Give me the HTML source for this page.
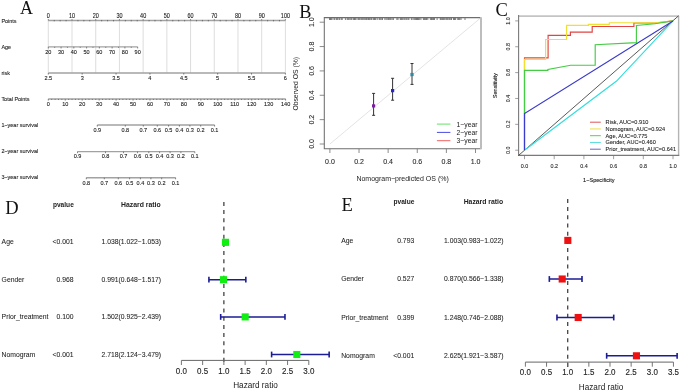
<!DOCTYPE html>
<html><head><meta charset="utf-8"><style>
html,body{margin:0;padding:0;background:#fff;}
svg{display:block;filter:blur(0.42px);}
</style></head><body>
<svg width="685" height="392" viewBox="0 0 685 392">
<rect width="685" height="392" fill="#fff"/>
<text transform="translate(20.00,14.10)" font-family="Liberation Serif" font-size="18.0" text-anchor="start" fill="#111">A</text>
<line x1="48.30" y1="20.45" x2="48.30" y2="73.00" stroke="#d2d2d2" stroke-width="0.75" />
<line x1="72.01" y1="20.45" x2="72.01" y2="73.00" stroke="#d2d2d2" stroke-width="0.75" />
<line x1="95.72" y1="20.45" x2="95.72" y2="73.00" stroke="#d2d2d2" stroke-width="0.75" />
<line x1="119.43" y1="20.45" x2="119.43" y2="73.00" stroke="#d2d2d2" stroke-width="0.75" />
<line x1="143.14" y1="20.45" x2="143.14" y2="73.00" stroke="#d2d2d2" stroke-width="0.75" />
<line x1="166.85" y1="20.45" x2="166.85" y2="73.00" stroke="#d2d2d2" stroke-width="0.75" />
<line x1="190.56" y1="20.45" x2="190.56" y2="73.00" stroke="#d2d2d2" stroke-width="0.75" />
<line x1="214.27" y1="20.45" x2="214.27" y2="73.00" stroke="#d2d2d2" stroke-width="0.75" />
<line x1="237.98" y1="20.45" x2="237.98" y2="73.00" stroke="#d2d2d2" stroke-width="0.75" />
<line x1="261.69" y1="20.45" x2="261.69" y2="73.00" stroke="#d2d2d2" stroke-width="0.75" />
<line x1="285.40" y1="20.45" x2="285.40" y2="73.00" stroke="#d2d2d2" stroke-width="0.75" />
<line x1="48.30" y1="20.45" x2="285.40" y2="20.45" stroke="#a2a2a2" stroke-width="1.45" />
<line x1="48.30" y1="20.45" x2="48.30" y2="19.05" stroke="#555" stroke-width="0.7" />
<line x1="54.23" y1="19.95" x2="54.23" y2="21.35" stroke="#555" stroke-width="0.7" />
<line x1="60.15" y1="19.95" x2="60.15" y2="21.35" stroke="#555" stroke-width="0.7" />
<line x1="66.08" y1="19.95" x2="66.08" y2="21.35" stroke="#555" stroke-width="0.7" />
<line x1="72.01" y1="20.45" x2="72.01" y2="19.05" stroke="#555" stroke-width="0.7" />
<line x1="77.94" y1="19.95" x2="77.94" y2="21.35" stroke="#555" stroke-width="0.7" />
<line x1="83.86" y1="19.95" x2="83.86" y2="21.35" stroke="#555" stroke-width="0.7" />
<line x1="89.79" y1="19.95" x2="89.79" y2="21.35" stroke="#555" stroke-width="0.7" />
<line x1="95.72" y1="20.45" x2="95.72" y2="19.05" stroke="#555" stroke-width="0.7" />
<line x1="101.65" y1="19.95" x2="101.65" y2="21.35" stroke="#555" stroke-width="0.7" />
<line x1="107.57" y1="19.95" x2="107.57" y2="21.35" stroke="#555" stroke-width="0.7" />
<line x1="113.50" y1="19.95" x2="113.50" y2="21.35" stroke="#555" stroke-width="0.7" />
<line x1="119.43" y1="20.45" x2="119.43" y2="19.05" stroke="#555" stroke-width="0.7" />
<line x1="125.36" y1="19.95" x2="125.36" y2="21.35" stroke="#555" stroke-width="0.7" />
<line x1="131.28" y1="19.95" x2="131.28" y2="21.35" stroke="#555" stroke-width="0.7" />
<line x1="137.21" y1="19.95" x2="137.21" y2="21.35" stroke="#555" stroke-width="0.7" />
<line x1="143.14" y1="20.45" x2="143.14" y2="19.05" stroke="#555" stroke-width="0.7" />
<line x1="149.07" y1="19.95" x2="149.07" y2="21.35" stroke="#555" stroke-width="0.7" />
<line x1="154.99" y1="19.95" x2="154.99" y2="21.35" stroke="#555" stroke-width="0.7" />
<line x1="160.92" y1="19.95" x2="160.92" y2="21.35" stroke="#555" stroke-width="0.7" />
<line x1="166.85" y1="20.45" x2="166.85" y2="19.05" stroke="#555" stroke-width="0.7" />
<line x1="172.78" y1="19.95" x2="172.78" y2="21.35" stroke="#555" stroke-width="0.7" />
<line x1="178.70" y1="19.95" x2="178.70" y2="21.35" stroke="#555" stroke-width="0.7" />
<line x1="184.63" y1="19.95" x2="184.63" y2="21.35" stroke="#555" stroke-width="0.7" />
<line x1="190.56" y1="20.45" x2="190.56" y2="19.05" stroke="#555" stroke-width="0.7" />
<line x1="196.49" y1="19.95" x2="196.49" y2="21.35" stroke="#555" stroke-width="0.7" />
<line x1="202.41" y1="19.95" x2="202.41" y2="21.35" stroke="#555" stroke-width="0.7" />
<line x1="208.34" y1="19.95" x2="208.34" y2="21.35" stroke="#555" stroke-width="0.7" />
<line x1="214.27" y1="20.45" x2="214.27" y2="19.05" stroke="#555" stroke-width="0.7" />
<line x1="220.20" y1="19.95" x2="220.20" y2="21.35" stroke="#555" stroke-width="0.7" />
<line x1="226.12" y1="19.95" x2="226.12" y2="21.35" stroke="#555" stroke-width="0.7" />
<line x1="232.05" y1="19.95" x2="232.05" y2="21.35" stroke="#555" stroke-width="0.7" />
<line x1="237.98" y1="20.45" x2="237.98" y2="19.05" stroke="#555" stroke-width="0.7" />
<line x1="243.91" y1="19.95" x2="243.91" y2="21.35" stroke="#555" stroke-width="0.7" />
<line x1="249.83" y1="19.95" x2="249.83" y2="21.35" stroke="#555" stroke-width="0.7" />
<line x1="255.76" y1="19.95" x2="255.76" y2="21.35" stroke="#555" stroke-width="0.7" />
<line x1="261.69" y1="20.45" x2="261.69" y2="19.05" stroke="#555" stroke-width="0.7" />
<line x1="267.62" y1="19.95" x2="267.62" y2="21.35" stroke="#555" stroke-width="0.7" />
<line x1="273.54" y1="19.95" x2="273.54" y2="21.35" stroke="#555" stroke-width="0.7" />
<line x1="279.47" y1="19.95" x2="279.47" y2="21.35" stroke="#555" stroke-width="0.7" />
<line x1="285.40" y1="20.45" x2="285.40" y2="19.05" stroke="#555" stroke-width="0.7" />
<text transform="translate(48.30,17.60) scale(0.84,1)" font-family="Liberation Sans" font-size="6.5" text-anchor="middle" fill="#1a1a1a" stroke="#1a1a1a" stroke-width="0.1">0</text>
<text transform="translate(72.01,17.60) scale(0.84,1)" font-family="Liberation Sans" font-size="6.5" text-anchor="middle" fill="#1a1a1a" stroke="#1a1a1a" stroke-width="0.1">10</text>
<text transform="translate(95.72,17.60) scale(0.84,1)" font-family="Liberation Sans" font-size="6.5" text-anchor="middle" fill="#1a1a1a" stroke="#1a1a1a" stroke-width="0.1">20</text>
<text transform="translate(119.43,17.60) scale(0.84,1)" font-family="Liberation Sans" font-size="6.5" text-anchor="middle" fill="#1a1a1a" stroke="#1a1a1a" stroke-width="0.1">30</text>
<text transform="translate(143.14,17.60) scale(0.84,1)" font-family="Liberation Sans" font-size="6.5" text-anchor="middle" fill="#1a1a1a" stroke="#1a1a1a" stroke-width="0.1">40</text>
<text transform="translate(166.85,17.60) scale(0.84,1)" font-family="Liberation Sans" font-size="6.5" text-anchor="middle" fill="#1a1a1a" stroke="#1a1a1a" stroke-width="0.1">50</text>
<text transform="translate(190.56,17.60) scale(0.84,1)" font-family="Liberation Sans" font-size="6.5" text-anchor="middle" fill="#1a1a1a" stroke="#1a1a1a" stroke-width="0.1">60</text>
<text transform="translate(214.27,17.60) scale(0.84,1)" font-family="Liberation Sans" font-size="6.5" text-anchor="middle" fill="#1a1a1a" stroke="#1a1a1a" stroke-width="0.1">70</text>
<text transform="translate(237.98,17.60) scale(0.84,1)" font-family="Liberation Sans" font-size="6.5" text-anchor="middle" fill="#1a1a1a" stroke="#1a1a1a" stroke-width="0.1">80</text>
<text transform="translate(261.69,17.60) scale(0.84,1)" font-family="Liberation Sans" font-size="6.5" text-anchor="middle" fill="#1a1a1a" stroke="#1a1a1a" stroke-width="0.1">90</text>
<text transform="translate(285.40,17.60) scale(0.84,1)" font-family="Liberation Sans" font-size="6.5" text-anchor="middle" fill="#1a1a1a" stroke="#1a1a1a" stroke-width="0.1">100</text>
<text transform="translate(1.40,22.75) scale(0.91,1)" font-family="Liberation Sans" font-size="6.0" text-anchor="start" fill="#1a1a1a" stroke="#1a1a1a" stroke-width="0.1">Points</text>
<line x1="48.30" y1="46.85" x2="137.66" y2="46.85" stroke="#a2a2a2" stroke-width="1.45" />
<line x1="48.30" y1="46.85" x2="48.30" y2="48.45" stroke="#555" stroke-width="0.7" />
<line x1="54.68" y1="46.85" x2="54.68" y2="47.85" stroke="#555" stroke-width="0.7" />
<line x1="61.07" y1="46.85" x2="61.07" y2="48.45" stroke="#555" stroke-width="0.7" />
<line x1="67.45" y1="46.85" x2="67.45" y2="47.85" stroke="#555" stroke-width="0.7" />
<line x1="73.83" y1="46.85" x2="73.83" y2="48.45" stroke="#555" stroke-width="0.7" />
<line x1="80.22" y1="46.85" x2="80.22" y2="47.85" stroke="#555" stroke-width="0.7" />
<line x1="86.60" y1="46.85" x2="86.60" y2="48.45" stroke="#555" stroke-width="0.7" />
<line x1="92.98" y1="46.85" x2="92.98" y2="47.85" stroke="#555" stroke-width="0.7" />
<line x1="99.36" y1="46.85" x2="99.36" y2="48.45" stroke="#555" stroke-width="0.7" />
<line x1="105.75" y1="46.85" x2="105.75" y2="47.85" stroke="#555" stroke-width="0.7" />
<line x1="112.13" y1="46.85" x2="112.13" y2="48.45" stroke="#555" stroke-width="0.7" />
<line x1="118.51" y1="46.85" x2="118.51" y2="47.85" stroke="#555" stroke-width="0.7" />
<line x1="124.90" y1="46.85" x2="124.90" y2="48.45" stroke="#555" stroke-width="0.7" />
<line x1="131.28" y1="46.85" x2="131.28" y2="47.85" stroke="#555" stroke-width="0.7" />
<line x1="137.66" y1="46.85" x2="137.66" y2="48.45" stroke="#555" stroke-width="0.7" />
<text transform="translate(48.30,53.50) scale(0.97,1)" font-family="Liberation Sans" font-size="5.7" text-anchor="middle" fill="#1a1a1a" stroke="#1a1a1a" stroke-width="0.1">20</text>
<text transform="translate(61.07,53.50) scale(0.97,1)" font-family="Liberation Sans" font-size="5.7" text-anchor="middle" fill="#1a1a1a" stroke="#1a1a1a" stroke-width="0.1">30</text>
<text transform="translate(73.83,53.50) scale(0.97,1)" font-family="Liberation Sans" font-size="5.7" text-anchor="middle" fill="#1a1a1a" stroke="#1a1a1a" stroke-width="0.1">40</text>
<text transform="translate(86.60,53.50) scale(0.97,1)" font-family="Liberation Sans" font-size="5.7" text-anchor="middle" fill="#1a1a1a" stroke="#1a1a1a" stroke-width="0.1">50</text>
<text transform="translate(99.36,53.50) scale(0.97,1)" font-family="Liberation Sans" font-size="5.7" text-anchor="middle" fill="#1a1a1a" stroke="#1a1a1a" stroke-width="0.1">60</text>
<text transform="translate(112.13,53.50) scale(0.97,1)" font-family="Liberation Sans" font-size="5.7" text-anchor="middle" fill="#1a1a1a" stroke="#1a1a1a" stroke-width="0.1">70</text>
<text transform="translate(124.90,53.50) scale(0.97,1)" font-family="Liberation Sans" font-size="5.7" text-anchor="middle" fill="#1a1a1a" stroke="#1a1a1a" stroke-width="0.1">80</text>
<text transform="translate(137.66,53.50) scale(0.97,1)" font-family="Liberation Sans" font-size="5.7" text-anchor="middle" fill="#1a1a1a" stroke="#1a1a1a" stroke-width="0.1">90</text>
<text transform="translate(1.40,49.05) scale(0.91,1)" font-family="Liberation Sans" font-size="6.0" text-anchor="start" fill="#1a1a1a" stroke="#1a1a1a" stroke-width="0.1">Age</text>
<line x1="48.30" y1="73.00" x2="285.39" y2="73.00" stroke="#a2a2a2" stroke-width="1.45" />
<line x1="48.30" y1="73.00" x2="48.30" y2="74.60" stroke="#555" stroke-width="0.7" />
<text transform="translate(48.30,79.80) scale(0.97,1)" font-family="Liberation Sans" font-size="5.7" text-anchor="middle" fill="#1a1a1a" stroke="#1a1a1a" stroke-width="0.1">2.5</text>
<line x1="82.17" y1="73.00" x2="82.17" y2="74.60" stroke="#555" stroke-width="0.7" />
<text transform="translate(82.17,79.80) scale(0.97,1)" font-family="Liberation Sans" font-size="5.7" text-anchor="middle" fill="#1a1a1a" stroke="#1a1a1a" stroke-width="0.1">3</text>
<line x1="116.04" y1="73.00" x2="116.04" y2="74.60" stroke="#555" stroke-width="0.7" />
<text transform="translate(116.04,79.80) scale(0.97,1)" font-family="Liberation Sans" font-size="5.7" text-anchor="middle" fill="#1a1a1a" stroke="#1a1a1a" stroke-width="0.1">3.5</text>
<line x1="149.91" y1="73.00" x2="149.91" y2="74.60" stroke="#555" stroke-width="0.7" />
<text transform="translate(149.91,79.80) scale(0.97,1)" font-family="Liberation Sans" font-size="5.7" text-anchor="middle" fill="#1a1a1a" stroke="#1a1a1a" stroke-width="0.1">4</text>
<line x1="183.78" y1="73.00" x2="183.78" y2="74.60" stroke="#555" stroke-width="0.7" />
<text transform="translate(183.78,79.80) scale(0.97,1)" font-family="Liberation Sans" font-size="5.7" text-anchor="middle" fill="#1a1a1a" stroke="#1a1a1a" stroke-width="0.1">4.5</text>
<line x1="217.65" y1="73.00" x2="217.65" y2="74.60" stroke="#555" stroke-width="0.7" />
<text transform="translate(217.65,79.80) scale(0.97,1)" font-family="Liberation Sans" font-size="5.7" text-anchor="middle" fill="#1a1a1a" stroke="#1a1a1a" stroke-width="0.1">5</text>
<line x1="251.52" y1="73.00" x2="251.52" y2="74.60" stroke="#555" stroke-width="0.7" />
<text transform="translate(251.52,79.80) scale(0.97,1)" font-family="Liberation Sans" font-size="5.7" text-anchor="middle" fill="#1a1a1a" stroke="#1a1a1a" stroke-width="0.1">5.5</text>
<line x1="285.39" y1="73.00" x2="285.39" y2="74.60" stroke="#555" stroke-width="0.7" />
<text transform="translate(285.39,79.80) scale(0.97,1)" font-family="Liberation Sans" font-size="5.7" text-anchor="middle" fill="#1a1a1a" stroke="#1a1a1a" stroke-width="0.1">6</text>
<text transform="translate(1.40,75.20) scale(0.91,1)" font-family="Liberation Sans" font-size="6.0" text-anchor="start" fill="#1a1a1a" stroke="#1a1a1a" stroke-width="0.1">risk</text>
<line x1="48.30" y1="98.95" x2="285.60" y2="98.95" stroke="#a2a2a2" stroke-width="1.45" />
<line x1="48.30" y1="98.95" x2="48.30" y2="100.55" stroke="#555" stroke-width="0.7" />
<line x1="51.69" y1="98.95" x2="51.69" y2="99.95" stroke="#555" stroke-width="0.7" />
<line x1="55.08" y1="98.95" x2="55.08" y2="99.95" stroke="#555" stroke-width="0.7" />
<line x1="58.47" y1="98.95" x2="58.47" y2="99.95" stroke="#555" stroke-width="0.7" />
<line x1="61.86" y1="98.95" x2="61.86" y2="99.95" stroke="#555" stroke-width="0.7" />
<line x1="65.25" y1="98.95" x2="65.25" y2="100.55" stroke="#555" stroke-width="0.7" />
<line x1="68.64" y1="98.95" x2="68.64" y2="99.95" stroke="#555" stroke-width="0.7" />
<line x1="72.03" y1="98.95" x2="72.03" y2="99.95" stroke="#555" stroke-width="0.7" />
<line x1="75.42" y1="98.95" x2="75.42" y2="99.95" stroke="#555" stroke-width="0.7" />
<line x1="78.81" y1="98.95" x2="78.81" y2="99.95" stroke="#555" stroke-width="0.7" />
<line x1="82.20" y1="98.95" x2="82.20" y2="100.55" stroke="#555" stroke-width="0.7" />
<line x1="85.59" y1="98.95" x2="85.59" y2="99.95" stroke="#555" stroke-width="0.7" />
<line x1="88.98" y1="98.95" x2="88.98" y2="99.95" stroke="#555" stroke-width="0.7" />
<line x1="92.37" y1="98.95" x2="92.37" y2="99.95" stroke="#555" stroke-width="0.7" />
<line x1="95.76" y1="98.95" x2="95.76" y2="99.95" stroke="#555" stroke-width="0.7" />
<line x1="99.15" y1="98.95" x2="99.15" y2="100.55" stroke="#555" stroke-width="0.7" />
<line x1="102.54" y1="98.95" x2="102.54" y2="99.95" stroke="#555" stroke-width="0.7" />
<line x1="105.93" y1="98.95" x2="105.93" y2="99.95" stroke="#555" stroke-width="0.7" />
<line x1="109.32" y1="98.95" x2="109.32" y2="99.95" stroke="#555" stroke-width="0.7" />
<line x1="112.71" y1="98.95" x2="112.71" y2="99.95" stroke="#555" stroke-width="0.7" />
<line x1="116.10" y1="98.95" x2="116.10" y2="100.55" stroke="#555" stroke-width="0.7" />
<line x1="119.49" y1="98.95" x2="119.49" y2="99.95" stroke="#555" stroke-width="0.7" />
<line x1="122.88" y1="98.95" x2="122.88" y2="99.95" stroke="#555" stroke-width="0.7" />
<line x1="126.27" y1="98.95" x2="126.27" y2="99.95" stroke="#555" stroke-width="0.7" />
<line x1="129.66" y1="98.95" x2="129.66" y2="99.95" stroke="#555" stroke-width="0.7" />
<line x1="133.05" y1="98.95" x2="133.05" y2="100.55" stroke="#555" stroke-width="0.7" />
<line x1="136.44" y1="98.95" x2="136.44" y2="99.95" stroke="#555" stroke-width="0.7" />
<line x1="139.83" y1="98.95" x2="139.83" y2="99.95" stroke="#555" stroke-width="0.7" />
<line x1="143.22" y1="98.95" x2="143.22" y2="99.95" stroke="#555" stroke-width="0.7" />
<line x1="146.61" y1="98.95" x2="146.61" y2="99.95" stroke="#555" stroke-width="0.7" />
<line x1="150.00" y1="98.95" x2="150.00" y2="100.55" stroke="#555" stroke-width="0.7" />
<line x1="153.39" y1="98.95" x2="153.39" y2="99.95" stroke="#555" stroke-width="0.7" />
<line x1="156.78" y1="98.95" x2="156.78" y2="99.95" stroke="#555" stroke-width="0.7" />
<line x1="160.17" y1="98.95" x2="160.17" y2="99.95" stroke="#555" stroke-width="0.7" />
<line x1="163.56" y1="98.95" x2="163.56" y2="99.95" stroke="#555" stroke-width="0.7" />
<line x1="166.95" y1="98.95" x2="166.95" y2="100.55" stroke="#555" stroke-width="0.7" />
<line x1="170.34" y1="98.95" x2="170.34" y2="99.95" stroke="#555" stroke-width="0.7" />
<line x1="173.73" y1="98.95" x2="173.73" y2="99.95" stroke="#555" stroke-width="0.7" />
<line x1="177.12" y1="98.95" x2="177.12" y2="99.95" stroke="#555" stroke-width="0.7" />
<line x1="180.51" y1="98.95" x2="180.51" y2="99.95" stroke="#555" stroke-width="0.7" />
<line x1="183.90" y1="98.95" x2="183.90" y2="100.55" stroke="#555" stroke-width="0.7" />
<line x1="187.29" y1="98.95" x2="187.29" y2="99.95" stroke="#555" stroke-width="0.7" />
<line x1="190.68" y1="98.95" x2="190.68" y2="99.95" stroke="#555" stroke-width="0.7" />
<line x1="194.07" y1="98.95" x2="194.07" y2="99.95" stroke="#555" stroke-width="0.7" />
<line x1="197.46" y1="98.95" x2="197.46" y2="99.95" stroke="#555" stroke-width="0.7" />
<line x1="200.85" y1="98.95" x2="200.85" y2="100.55" stroke="#555" stroke-width="0.7" />
<line x1="204.24" y1="98.95" x2="204.24" y2="99.95" stroke="#555" stroke-width="0.7" />
<line x1="207.63" y1="98.95" x2="207.63" y2="99.95" stroke="#555" stroke-width="0.7" />
<line x1="211.02" y1="98.95" x2="211.02" y2="99.95" stroke="#555" stroke-width="0.7" />
<line x1="214.41" y1="98.95" x2="214.41" y2="99.95" stroke="#555" stroke-width="0.7" />
<line x1="217.80" y1="98.95" x2="217.80" y2="100.55" stroke="#555" stroke-width="0.7" />
<line x1="221.19" y1="98.95" x2="221.19" y2="99.95" stroke="#555" stroke-width="0.7" />
<line x1="224.58" y1="98.95" x2="224.58" y2="99.95" stroke="#555" stroke-width="0.7" />
<line x1="227.97" y1="98.95" x2="227.97" y2="99.95" stroke="#555" stroke-width="0.7" />
<line x1="231.36" y1="98.95" x2="231.36" y2="99.95" stroke="#555" stroke-width="0.7" />
<line x1="234.75" y1="98.95" x2="234.75" y2="100.55" stroke="#555" stroke-width="0.7" />
<line x1="238.14" y1="98.95" x2="238.14" y2="99.95" stroke="#555" stroke-width="0.7" />
<line x1="241.53" y1="98.95" x2="241.53" y2="99.95" stroke="#555" stroke-width="0.7" />
<line x1="244.92" y1="98.95" x2="244.92" y2="99.95" stroke="#555" stroke-width="0.7" />
<line x1="248.31" y1="98.95" x2="248.31" y2="99.95" stroke="#555" stroke-width="0.7" />
<line x1="251.70" y1="98.95" x2="251.70" y2="100.55" stroke="#555" stroke-width="0.7" />
<line x1="255.09" y1="98.95" x2="255.09" y2="99.95" stroke="#555" stroke-width="0.7" />
<line x1="258.48" y1="98.95" x2="258.48" y2="99.95" stroke="#555" stroke-width="0.7" />
<line x1="261.87" y1="98.95" x2="261.87" y2="99.95" stroke="#555" stroke-width="0.7" />
<line x1="265.26" y1="98.95" x2="265.26" y2="99.95" stroke="#555" stroke-width="0.7" />
<line x1="268.65" y1="98.95" x2="268.65" y2="100.55" stroke="#555" stroke-width="0.7" />
<line x1="272.04" y1="98.95" x2="272.04" y2="99.95" stroke="#555" stroke-width="0.7" />
<line x1="275.43" y1="98.95" x2="275.43" y2="99.95" stroke="#555" stroke-width="0.7" />
<line x1="278.82" y1="98.95" x2="278.82" y2="99.95" stroke="#555" stroke-width="0.7" />
<line x1="282.21" y1="98.95" x2="282.21" y2="99.95" stroke="#555" stroke-width="0.7" />
<line x1="285.60" y1="98.95" x2="285.60" y2="100.55" stroke="#555" stroke-width="0.7" />
<text transform="translate(48.30,105.80) scale(0.97,1)" font-family="Liberation Sans" font-size="5.7" text-anchor="middle" fill="#1a1a1a" stroke="#1a1a1a" stroke-width="0.1">0</text>
<text transform="translate(65.25,105.80) scale(0.97,1)" font-family="Liberation Sans" font-size="5.7" text-anchor="middle" fill="#1a1a1a" stroke="#1a1a1a" stroke-width="0.1">10</text>
<text transform="translate(82.20,105.80) scale(0.97,1)" font-family="Liberation Sans" font-size="5.7" text-anchor="middle" fill="#1a1a1a" stroke="#1a1a1a" stroke-width="0.1">20</text>
<text transform="translate(99.15,105.80) scale(0.97,1)" font-family="Liberation Sans" font-size="5.7" text-anchor="middle" fill="#1a1a1a" stroke="#1a1a1a" stroke-width="0.1">30</text>
<text transform="translate(116.10,105.80) scale(0.97,1)" font-family="Liberation Sans" font-size="5.7" text-anchor="middle" fill="#1a1a1a" stroke="#1a1a1a" stroke-width="0.1">40</text>
<text transform="translate(133.05,105.80) scale(0.97,1)" font-family="Liberation Sans" font-size="5.7" text-anchor="middle" fill="#1a1a1a" stroke="#1a1a1a" stroke-width="0.1">50</text>
<text transform="translate(150.00,105.80) scale(0.97,1)" font-family="Liberation Sans" font-size="5.7" text-anchor="middle" fill="#1a1a1a" stroke="#1a1a1a" stroke-width="0.1">60</text>
<text transform="translate(166.95,105.80) scale(0.97,1)" font-family="Liberation Sans" font-size="5.7" text-anchor="middle" fill="#1a1a1a" stroke="#1a1a1a" stroke-width="0.1">70</text>
<text transform="translate(183.90,105.80) scale(0.97,1)" font-family="Liberation Sans" font-size="5.7" text-anchor="middle" fill="#1a1a1a" stroke="#1a1a1a" stroke-width="0.1">80</text>
<text transform="translate(200.85,105.80) scale(0.97,1)" font-family="Liberation Sans" font-size="5.7" text-anchor="middle" fill="#1a1a1a" stroke="#1a1a1a" stroke-width="0.1">90</text>
<text transform="translate(217.80,105.80) scale(0.97,1)" font-family="Liberation Sans" font-size="5.7" text-anchor="middle" fill="#1a1a1a" stroke="#1a1a1a" stroke-width="0.1">100</text>
<text transform="translate(234.75,105.80) scale(0.97,1)" font-family="Liberation Sans" font-size="5.7" text-anchor="middle" fill="#1a1a1a" stroke="#1a1a1a" stroke-width="0.1">110</text>
<text transform="translate(251.70,105.80) scale(0.97,1)" font-family="Liberation Sans" font-size="5.7" text-anchor="middle" fill="#1a1a1a" stroke="#1a1a1a" stroke-width="0.1">120</text>
<text transform="translate(268.65,105.80) scale(0.97,1)" font-family="Liberation Sans" font-size="5.7" text-anchor="middle" fill="#1a1a1a" stroke="#1a1a1a" stroke-width="0.1">130</text>
<text transform="translate(285.60,105.80) scale(0.97,1)" font-family="Liberation Sans" font-size="5.7" text-anchor="middle" fill="#1a1a1a" stroke="#1a1a1a" stroke-width="0.1">140</text>
<text transform="translate(1.40,101.25) scale(0.91,1)" font-family="Liberation Sans" font-size="6.0" text-anchor="start" fill="#1a1a1a" stroke="#1a1a1a" stroke-width="0.1">Total Points</text>
<line x1="97.30" y1="125.00" x2="214.60" y2="125.00" stroke="#a2a2a2" stroke-width="1.45" />
<line x1="97.30" y1="125.00" x2="97.30" y2="126.60" stroke="#555" stroke-width="0.7" />
<text transform="translate(97.30,132.00) scale(0.97,1)" font-family="Liberation Sans" font-size="5.7" text-anchor="middle" fill="#1a1a1a" stroke="#1a1a1a" stroke-width="0.1">0.9</text>
<line x1="125.30" y1="125.00" x2="125.30" y2="126.60" stroke="#555" stroke-width="0.7" />
<text transform="translate(125.30,132.00) scale(0.97,1)" font-family="Liberation Sans" font-size="5.7" text-anchor="middle" fill="#1a1a1a" stroke="#1a1a1a" stroke-width="0.1">0.8</text>
<line x1="143.30" y1="125.00" x2="143.30" y2="126.60" stroke="#555" stroke-width="0.7" />
<text transform="translate(143.30,132.00) scale(0.97,1)" font-family="Liberation Sans" font-size="5.7" text-anchor="middle" fill="#1a1a1a" stroke="#1a1a1a" stroke-width="0.1">0.7</text>
<line x1="157.30" y1="125.00" x2="157.30" y2="126.60" stroke="#555" stroke-width="0.7" />
<text transform="translate(157.30,132.00) scale(0.97,1)" font-family="Liberation Sans" font-size="5.7" text-anchor="middle" fill="#1a1a1a" stroke="#1a1a1a" stroke-width="0.1">0.6</text>
<line x1="168.60" y1="125.00" x2="168.60" y2="126.60" stroke="#555" stroke-width="0.7" />
<text transform="translate(168.60,132.00) scale(0.97,1)" font-family="Liberation Sans" font-size="5.7" text-anchor="middle" fill="#1a1a1a" stroke="#1a1a1a" stroke-width="0.1">0.5</text>
<line x1="179.40" y1="125.00" x2="179.40" y2="126.60" stroke="#555" stroke-width="0.7" />
<text transform="translate(179.40,132.00) scale(0.97,1)" font-family="Liberation Sans" font-size="5.7" text-anchor="middle" fill="#1a1a1a" stroke="#1a1a1a" stroke-width="0.1">0.4</text>
<line x1="189.90" y1="125.00" x2="189.90" y2="126.60" stroke="#555" stroke-width="0.7" />
<text transform="translate(189.90,132.00) scale(0.97,1)" font-family="Liberation Sans" font-size="5.7" text-anchor="middle" fill="#1a1a1a" stroke="#1a1a1a" stroke-width="0.1">0.3</text>
<line x1="200.70" y1="125.00" x2="200.70" y2="126.60" stroke="#555" stroke-width="0.7" />
<text transform="translate(200.70,132.00) scale(0.97,1)" font-family="Liberation Sans" font-size="5.7" text-anchor="middle" fill="#1a1a1a" stroke="#1a1a1a" stroke-width="0.1">0.2</text>
<line x1="214.60" y1="125.00" x2="214.60" y2="126.60" stroke="#555" stroke-width="0.7" />
<text transform="translate(214.60,132.00) scale(0.97,1)" font-family="Liberation Sans" font-size="5.7" text-anchor="middle" fill="#1a1a1a" stroke="#1a1a1a" stroke-width="0.1">0.1</text>
<text transform="translate(1.40,126.50) scale(0.91,1)" font-family="Liberation Sans" font-size="6.0" text-anchor="start" fill="#1a1a1a" stroke="#1a1a1a" stroke-width="0.1">1−year survival</text>
<line x1="77.50" y1="151.60" x2="194.80" y2="151.60" stroke="#a2a2a2" stroke-width="1.45" />
<line x1="77.50" y1="151.60" x2="77.50" y2="153.20" stroke="#555" stroke-width="0.7" />
<text transform="translate(77.50,158.40) scale(0.97,1)" font-family="Liberation Sans" font-size="5.7" text-anchor="middle" fill="#1a1a1a" stroke="#1a1a1a" stroke-width="0.1">0.9</text>
<line x1="105.50" y1="151.60" x2="105.50" y2="153.20" stroke="#555" stroke-width="0.7" />
<text transform="translate(105.50,158.40) scale(0.97,1)" font-family="Liberation Sans" font-size="5.7" text-anchor="middle" fill="#1a1a1a" stroke="#1a1a1a" stroke-width="0.1">0.8</text>
<line x1="123.50" y1="151.60" x2="123.50" y2="153.20" stroke="#555" stroke-width="0.7" />
<text transform="translate(123.50,158.40) scale(0.97,1)" font-family="Liberation Sans" font-size="5.7" text-anchor="middle" fill="#1a1a1a" stroke="#1a1a1a" stroke-width="0.1">0.7</text>
<line x1="137.50" y1="151.60" x2="137.50" y2="153.20" stroke="#555" stroke-width="0.7" />
<text transform="translate(137.50,158.40) scale(0.97,1)" font-family="Liberation Sans" font-size="5.7" text-anchor="middle" fill="#1a1a1a" stroke="#1a1a1a" stroke-width="0.1">0.6</text>
<line x1="148.80" y1="151.60" x2="148.80" y2="153.20" stroke="#555" stroke-width="0.7" />
<text transform="translate(148.80,158.40) scale(0.97,1)" font-family="Liberation Sans" font-size="5.7" text-anchor="middle" fill="#1a1a1a" stroke="#1a1a1a" stroke-width="0.1">0.5</text>
<line x1="159.60" y1="151.60" x2="159.60" y2="153.20" stroke="#555" stroke-width="0.7" />
<text transform="translate(159.60,158.40) scale(0.97,1)" font-family="Liberation Sans" font-size="5.7" text-anchor="middle" fill="#1a1a1a" stroke="#1a1a1a" stroke-width="0.1">0.4</text>
<line x1="170.10" y1="151.60" x2="170.10" y2="153.20" stroke="#555" stroke-width="0.7" />
<text transform="translate(170.10,158.40) scale(0.97,1)" font-family="Liberation Sans" font-size="5.7" text-anchor="middle" fill="#1a1a1a" stroke="#1a1a1a" stroke-width="0.1">0.3</text>
<line x1="180.90" y1="151.60" x2="180.90" y2="153.20" stroke="#555" stroke-width="0.7" />
<text transform="translate(180.90,158.40) scale(0.97,1)" font-family="Liberation Sans" font-size="5.7" text-anchor="middle" fill="#1a1a1a" stroke="#1a1a1a" stroke-width="0.1">0.2</text>
<line x1="194.80" y1="151.60" x2="194.80" y2="153.20" stroke="#555" stroke-width="0.7" />
<text transform="translate(194.80,158.40) scale(0.97,1)" font-family="Liberation Sans" font-size="5.7" text-anchor="middle" fill="#1a1a1a" stroke="#1a1a1a" stroke-width="0.1">0.1</text>
<text transform="translate(1.40,152.60) scale(0.91,1)" font-family="Liberation Sans" font-size="6.0" text-anchor="start" fill="#1a1a1a" stroke="#1a1a1a" stroke-width="0.1">2−year survival</text>
<line x1="86.30" y1="177.70" x2="175.60" y2="177.70" stroke="#a2a2a2" stroke-width="1.45" />
<line x1="86.30" y1="177.70" x2="86.30" y2="179.30" stroke="#555" stroke-width="0.7" />
<text transform="translate(86.30,184.50) scale(0.97,1)" font-family="Liberation Sans" font-size="5.7" text-anchor="middle" fill="#1a1a1a" stroke="#1a1a1a" stroke-width="0.1">0.8</text>
<line x1="104.30" y1="177.70" x2="104.30" y2="179.30" stroke="#555" stroke-width="0.7" />
<text transform="translate(104.30,184.50) scale(0.97,1)" font-family="Liberation Sans" font-size="5.7" text-anchor="middle" fill="#1a1a1a" stroke="#1a1a1a" stroke-width="0.1">0.7</text>
<line x1="118.30" y1="177.70" x2="118.30" y2="179.30" stroke="#555" stroke-width="0.7" />
<text transform="translate(118.30,184.50) scale(0.97,1)" font-family="Liberation Sans" font-size="5.7" text-anchor="middle" fill="#1a1a1a" stroke="#1a1a1a" stroke-width="0.1">0.6</text>
<line x1="129.60" y1="177.70" x2="129.60" y2="179.30" stroke="#555" stroke-width="0.7" />
<text transform="translate(129.60,184.50) scale(0.97,1)" font-family="Liberation Sans" font-size="5.7" text-anchor="middle" fill="#1a1a1a" stroke="#1a1a1a" stroke-width="0.1">0.5</text>
<line x1="140.40" y1="177.70" x2="140.40" y2="179.30" stroke="#555" stroke-width="0.7" />
<text transform="translate(140.40,184.50) scale(0.97,1)" font-family="Liberation Sans" font-size="5.7" text-anchor="middle" fill="#1a1a1a" stroke="#1a1a1a" stroke-width="0.1">0.4</text>
<line x1="150.90" y1="177.70" x2="150.90" y2="179.30" stroke="#555" stroke-width="0.7" />
<text transform="translate(150.90,184.50) scale(0.97,1)" font-family="Liberation Sans" font-size="5.7" text-anchor="middle" fill="#1a1a1a" stroke="#1a1a1a" stroke-width="0.1">0.3</text>
<line x1="161.70" y1="177.70" x2="161.70" y2="179.30" stroke="#555" stroke-width="0.7" />
<text transform="translate(161.70,184.50) scale(0.97,1)" font-family="Liberation Sans" font-size="5.7" text-anchor="middle" fill="#1a1a1a" stroke="#1a1a1a" stroke-width="0.1">0.2</text>
<line x1="175.60" y1="177.70" x2="175.60" y2="179.30" stroke="#555" stroke-width="0.7" />
<text transform="translate(175.60,184.50) scale(0.97,1)" font-family="Liberation Sans" font-size="5.7" text-anchor="middle" fill="#1a1a1a" stroke="#1a1a1a" stroke-width="0.1">0.1</text>
<text transform="translate(1.40,179.00) scale(0.91,1)" font-family="Liberation Sans" font-size="6.0" text-anchor="start" fill="#1a1a1a" stroke="#1a1a1a" stroke-width="0.1">3−year survival</text>
<text transform="translate(299.20,18.00)" font-family="Liberation Serif" font-size="18.3" text-anchor="start" fill="#111">B</text>
<line x1="329.90" y1="144.00" x2="479.87" y2="18.55" stroke="#d0d0d0" stroke-width="0.6" />
<polyline points="480.50,17.60 324.30,17.60 324.30,148.80 480.50,148.80" fill="none" stroke="#6e6e6e" stroke-width="1.05" stroke-linejoin="miter" />
<line x1="481.00" y1="17.20" x2="481.00" y2="149.20" stroke="#bdbdbd" stroke-width="2.0" />
<line x1="329.50" y1="18.10" x2="329.50" y2="20.00" stroke="#444" stroke-width="0.7" />
<line x1="330.50" y1="18.10" x2="330.50" y2="20.00" stroke="#444" stroke-width="0.7" />
<line x1="331.40" y1="18.10" x2="331.40" y2="20.00" stroke="#444" stroke-width="0.7" />
<line x1="333.00" y1="18.10" x2="333.00" y2="20.00" stroke="#444" stroke-width="0.7" />
<line x1="334.60" y1="18.10" x2="334.60" y2="20.00" stroke="#444" stroke-width="0.7" />
<line x1="336.20" y1="18.10" x2="336.20" y2="20.00" stroke="#444" stroke-width="0.7" />
<line x1="337.10" y1="18.10" x2="337.10" y2="20.00" stroke="#444" stroke-width="0.7" />
<line x1="338.00" y1="18.10" x2="338.00" y2="20.00" stroke="#444" stroke-width="0.7" />
<line x1="339.60" y1="18.10" x2="339.60" y2="20.00" stroke="#444" stroke-width="0.7" />
<line x1="341.20" y1="18.10" x2="341.20" y2="20.00" stroke="#444" stroke-width="0.7" />
<line x1="342.20" y1="18.10" x2="342.20" y2="20.00" stroke="#444" stroke-width="0.7" />
<line x1="345.40" y1="18.10" x2="345.40" y2="20.00" stroke="#444" stroke-width="0.7" />
<line x1="347.20" y1="18.10" x2="347.20" y2="20.00" stroke="#444" stroke-width="0.7" />
<line x1="348.20" y1="18.10" x2="348.20" y2="20.00" stroke="#444" stroke-width="0.7" />
<line x1="349.20" y1="18.10" x2="349.20" y2="20.00" stroke="#444" stroke-width="0.7" />
<line x1="350.80" y1="18.10" x2="350.80" y2="20.00" stroke="#444" stroke-width="0.7" />
<line x1="351.80" y1="18.10" x2="351.80" y2="20.00" stroke="#444" stroke-width="0.7" />
<line x1="353.40" y1="18.10" x2="353.40" y2="20.00" stroke="#444" stroke-width="0.7" />
<line x1="354.50" y1="18.10" x2="354.50" y2="20.00" stroke="#444" stroke-width="0.7" />
<line x1="355.40" y1="18.10" x2="355.40" y2="20.00" stroke="#444" stroke-width="0.7" />
<line x1="357.00" y1="18.10" x2="357.00" y2="20.00" stroke="#444" stroke-width="0.7" />
<line x1="358.60" y1="18.10" x2="358.60" y2="20.00" stroke="#444" stroke-width="0.7" />
<line x1="359.70" y1="18.10" x2="359.70" y2="20.00" stroke="#444" stroke-width="0.7" />
<line x1="361.00" y1="18.10" x2="361.00" y2="20.00" stroke="#444" stroke-width="0.7" />
<line x1="362.00" y1="18.10" x2="362.00" y2="20.00" stroke="#444" stroke-width="0.7" />
<line x1="363.00" y1="18.10" x2="363.00" y2="20.00" stroke="#444" stroke-width="0.7" />
<line x1="364.10" y1="18.10" x2="364.10" y2="20.00" stroke="#444" stroke-width="0.7" />
<line x1="365.20" y1="18.10" x2="365.20" y2="20.00" stroke="#444" stroke-width="0.7" />
<line x1="366.30" y1="18.10" x2="366.30" y2="20.00" stroke="#444" stroke-width="0.7" />
<line x1="367.20" y1="18.10" x2="367.20" y2="20.00" stroke="#444" stroke-width="0.7" />
<line x1="368.50" y1="18.10" x2="368.50" y2="20.00" stroke="#444" stroke-width="0.7" />
<line x1="369.60" y1="18.10" x2="369.60" y2="20.00" stroke="#444" stroke-width="0.7" />
<line x1="370.90" y1="18.10" x2="370.90" y2="20.00" stroke="#444" stroke-width="0.7" />
<line x1="371.80" y1="18.10" x2="371.80" y2="20.00" stroke="#444" stroke-width="0.7" />
<line x1="373.40" y1="18.10" x2="373.40" y2="20.00" stroke="#444" stroke-width="0.7" />
<line x1="374.50" y1="18.10" x2="374.50" y2="20.00" stroke="#444" stroke-width="0.7" />
<line x1="375.60" y1="18.10" x2="375.60" y2="20.00" stroke="#444" stroke-width="0.7" />
<line x1="377.20" y1="18.10" x2="377.20" y2="20.00" stroke="#444" stroke-width="0.7" />
<line x1="379.20" y1="18.10" x2="379.20" y2="20.00" stroke="#444" stroke-width="0.7" />
<line x1="380.10" y1="18.10" x2="380.10" y2="20.00" stroke="#444" stroke-width="0.7" />
<line x1="381.20" y1="18.10" x2="381.20" y2="20.00" stroke="#444" stroke-width="0.7" />
<line x1="382.50" y1="18.10" x2="382.50" y2="20.00" stroke="#444" stroke-width="0.7" />
<line x1="384.90" y1="18.10" x2="384.90" y2="20.00" stroke="#444" stroke-width="0.7" />
<line x1="386.20" y1="18.10" x2="386.20" y2="20.00" stroke="#444" stroke-width="0.7" />
<line x1="387.80" y1="18.10" x2="387.80" y2="20.00" stroke="#444" stroke-width="0.7" />
<line x1="388.70" y1="18.10" x2="388.70" y2="20.00" stroke="#444" stroke-width="0.7" />
<line x1="389.80" y1="18.10" x2="389.80" y2="20.00" stroke="#444" stroke-width="0.7" />
<line x1="390.80" y1="18.10" x2="390.80" y2="20.00" stroke="#444" stroke-width="0.7" />
<line x1="392.10" y1="18.10" x2="392.10" y2="20.00" stroke="#444" stroke-width="0.7" />
<line x1="393.40" y1="18.10" x2="393.40" y2="20.00" stroke="#444" stroke-width="0.7" />
<line x1="396.90" y1="18.10" x2="396.90" y2="20.00" stroke="#444" stroke-width="0.7" />
<line x1="398.00" y1="18.10" x2="398.00" y2="20.00" stroke="#444" stroke-width="0.7" />
<line x1="400.30" y1="18.10" x2="400.30" y2="20.00" stroke="#444" stroke-width="0.7" />
<line x1="401.30" y1="18.10" x2="401.30" y2="20.00" stroke="#444" stroke-width="0.7" />
<line x1="402.30" y1="18.10" x2="402.30" y2="20.00" stroke="#444" stroke-width="0.7" />
<line x1="403.90" y1="18.10" x2="403.90" y2="20.00" stroke="#444" stroke-width="0.7" />
<line x1="405.00" y1="18.10" x2="405.00" y2="20.00" stroke="#444" stroke-width="0.7" />
<line x1="406.30" y1="18.10" x2="406.30" y2="20.00" stroke="#444" stroke-width="0.7" />
<line x1="407.90" y1="18.10" x2="407.90" y2="20.00" stroke="#444" stroke-width="0.7" />
<line x1="408.90" y1="18.10" x2="408.90" y2="20.00" stroke="#444" stroke-width="0.7" />
<line x1="411.40" y1="18.10" x2="411.40" y2="20.00" stroke="#444" stroke-width="0.7" />
<line x1="413.00" y1="18.10" x2="413.00" y2="20.00" stroke="#444" stroke-width="0.7" />
<line x1="414.30" y1="18.10" x2="414.30" y2="20.00" stroke="#444" stroke-width="0.7" />
<line x1="415.60" y1="18.10" x2="415.60" y2="20.00" stroke="#444" stroke-width="0.7" />
<line x1="416.50" y1="18.10" x2="416.50" y2="20.00" stroke="#444" stroke-width="0.7" />
<line x1="417.50" y1="18.10" x2="417.50" y2="20.00" stroke="#444" stroke-width="0.7" />
<line x1="418.40" y1="18.10" x2="418.40" y2="20.00" stroke="#444" stroke-width="0.7" />
<line x1="419.30" y1="18.10" x2="419.30" y2="20.00" stroke="#444" stroke-width="0.7" />
<line x1="420.90" y1="18.10" x2="420.90" y2="20.00" stroke="#444" stroke-width="0.7" />
<line x1="423.40" y1="18.10" x2="423.40" y2="20.00" stroke="#444" stroke-width="0.7" />
<line x1="424.40" y1="18.10" x2="424.40" y2="20.00" stroke="#444" stroke-width="0.7" />
<line x1="425.40" y1="18.10" x2="425.40" y2="20.00" stroke="#444" stroke-width="0.7" />
<line x1="426.50" y1="18.10" x2="426.50" y2="20.00" stroke="#444" stroke-width="0.7" />
<line x1="427.80" y1="18.10" x2="427.80" y2="20.00" stroke="#444" stroke-width="0.7" />
<line x1="430.40" y1="18.10" x2="430.40" y2="20.00" stroke="#444" stroke-width="0.7" />
<line x1="431.50" y1="18.10" x2="431.50" y2="20.00" stroke="#444" stroke-width="0.7" />
<line x1="432.40" y1="18.10" x2="432.40" y2="20.00" stroke="#444" stroke-width="0.7" />
<line x1="433.50" y1="18.10" x2="433.50" y2="20.00" stroke="#444" stroke-width="0.7" />
<line x1="434.50" y1="18.10" x2="434.50" y2="20.00" stroke="#444" stroke-width="0.7" />
<line x1="437.10" y1="18.10" x2="437.10" y2="20.00" stroke="#444" stroke-width="0.7" />
<line x1="440.30" y1="18.10" x2="440.30" y2="20.00" stroke="#444" stroke-width="0.7" />
<line x1="441.20" y1="18.10" x2="441.20" y2="20.00" stroke="#444" stroke-width="0.7" />
<line x1="442.30" y1="18.10" x2="442.30" y2="20.00" stroke="#444" stroke-width="0.7" />
<line x1="443.30" y1="18.10" x2="443.30" y2="20.00" stroke="#444" stroke-width="0.7" />
<line x1="444.30" y1="18.10" x2="444.30" y2="20.00" stroke="#444" stroke-width="0.7" />
<line x1="445.90" y1="18.10" x2="445.90" y2="20.00" stroke="#444" stroke-width="0.7" />
<line x1="446.90" y1="18.10" x2="446.90" y2="20.00" stroke="#444" stroke-width="0.7" />
<line x1="447.90" y1="18.10" x2="447.90" y2="20.00" stroke="#444" stroke-width="0.7" />
<line x1="449.20" y1="18.10" x2="449.20" y2="20.00" stroke="#444" stroke-width="0.7" />
<line x1="450.20" y1="18.10" x2="450.20" y2="20.00" stroke="#444" stroke-width="0.7" />
<line x1="451.50" y1="18.10" x2="451.50" y2="20.00" stroke="#444" stroke-width="0.7" />
<line x1="453.50" y1="18.10" x2="453.50" y2="20.00" stroke="#444" stroke-width="0.7" />
<line x1="454.50" y1="18.10" x2="454.50" y2="20.00" stroke="#444" stroke-width="0.7" />
<line x1="455.60" y1="18.10" x2="455.60" y2="20.00" stroke="#444" stroke-width="0.7" />
<line x1="457.80" y1="18.10" x2="457.80" y2="20.00" stroke="#444" stroke-width="0.7" />
<line x1="458.70" y1="18.10" x2="458.70" y2="20.00" stroke="#444" stroke-width="0.7" />
<line x1="459.70" y1="18.10" x2="459.70" y2="20.00" stroke="#444" stroke-width="0.7" />
<line x1="461.00" y1="18.10" x2="461.00" y2="20.00" stroke="#444" stroke-width="0.7" />
<line x1="465.00" y1="18.10" x2="465.00" y2="20.00" stroke="#444" stroke-width="0.7" />
<line x1="319.70" y1="144.00" x2="324.30" y2="144.00" stroke="#6e6e6e" stroke-width="0.8" />
<text transform="translate(314.20,144.00) rotate(-90)" font-family="Liberation Sans" font-size="7.0" text-anchor="middle" fill="#2a2a2a" stroke="#2a2a2a" stroke-width="0.1">0.0</text>
<line x1="319.70" y1="119.64" x2="324.30" y2="119.64" stroke="#6e6e6e" stroke-width="0.8" />
<text transform="translate(314.20,119.64) rotate(-90)" font-family="Liberation Sans" font-size="7.0" text-anchor="middle" fill="#2a2a2a" stroke="#2a2a2a" stroke-width="0.1">0.2</text>
<line x1="319.70" y1="95.28" x2="324.30" y2="95.28" stroke="#6e6e6e" stroke-width="0.8" />
<text transform="translate(314.20,95.28) rotate(-90)" font-family="Liberation Sans" font-size="7.0" text-anchor="middle" fill="#2a2a2a" stroke="#2a2a2a" stroke-width="0.1">0.4</text>
<line x1="319.70" y1="70.92" x2="324.30" y2="70.92" stroke="#6e6e6e" stroke-width="0.8" />
<text transform="translate(314.20,70.92) rotate(-90)" font-family="Liberation Sans" font-size="7.0" text-anchor="middle" fill="#2a2a2a" stroke="#2a2a2a" stroke-width="0.1">0.6</text>
<line x1="319.70" y1="46.56" x2="324.30" y2="46.56" stroke="#6e6e6e" stroke-width="0.8" />
<text transform="translate(314.20,46.56) rotate(-90)" font-family="Liberation Sans" font-size="7.0" text-anchor="middle" fill="#2a2a2a" stroke="#2a2a2a" stroke-width="0.1">0.8</text>
<line x1="319.70" y1="22.20" x2="324.30" y2="22.20" stroke="#6e6e6e" stroke-width="0.8" />
<text transform="translate(314.20,22.20) rotate(-90)" font-family="Liberation Sans" font-size="7.0" text-anchor="middle" fill="#2a2a2a" stroke="#2a2a2a" stroke-width="0.1">1.0</text>
<line x1="329.90" y1="148.80" x2="329.90" y2="153.00" stroke="#6e6e6e" stroke-width="0.8" />
<text transform="translate(329.90,164.40)" font-family="Liberation Sans" font-size="7.0" text-anchor="middle" fill="#2a2a2a" stroke="#2a2a2a" stroke-width="0.1">0.0</text>
<line x1="359.02" y1="148.80" x2="359.02" y2="153.00" stroke="#6e6e6e" stroke-width="0.8" />
<text transform="translate(359.02,164.40)" font-family="Liberation Sans" font-size="7.0" text-anchor="middle" fill="#2a2a2a" stroke="#2a2a2a" stroke-width="0.1">0.2</text>
<line x1="388.14" y1="148.80" x2="388.14" y2="153.00" stroke="#6e6e6e" stroke-width="0.8" />
<text transform="translate(388.14,164.40)" font-family="Liberation Sans" font-size="7.0" text-anchor="middle" fill="#2a2a2a" stroke="#2a2a2a" stroke-width="0.1">0.4</text>
<line x1="417.26" y1="148.80" x2="417.26" y2="153.00" stroke="#6e6e6e" stroke-width="0.8" />
<text transform="translate(417.26,164.40)" font-family="Liberation Sans" font-size="7.0" text-anchor="middle" fill="#2a2a2a" stroke="#2a2a2a" stroke-width="0.1">0.6</text>
<line x1="446.38" y1="148.80" x2="446.38" y2="153.00" stroke="#6e6e6e" stroke-width="0.8" />
<text transform="translate(446.38,164.40)" font-family="Liberation Sans" font-size="7.0" text-anchor="middle" fill="#2a2a2a" stroke="#2a2a2a" stroke-width="0.1">0.8</text>
<line x1="475.50" y1="148.80" x2="475.50" y2="153.00" stroke="#6e6e6e" stroke-width="0.8" />
<text transform="translate(475.50,164.40)" font-family="Liberation Sans" font-size="7.0" text-anchor="middle" fill="#2a2a2a" stroke="#2a2a2a" stroke-width="0.1">1.0</text>
<text transform="translate(402.60,181.30)" font-family="Liberation Sans" font-size="7.0" text-anchor="middle" fill="#222">Nomogram−predicted OS (%)</text>
<text transform="translate(297.60,83.80) rotate(-90)" font-family="Liberation Sans" font-size="6.8" text-anchor="middle" fill="#222">Observed OS (%)</text>
<line x1="373.60" y1="93.40" x2="373.60" y2="115.30" stroke="#333" stroke-width="1.0" />
<line x1="372.10" y1="93.40" x2="375.10" y2="93.40" stroke="#333" stroke-width="1.0" />
<line x1="372.10" y1="115.30" x2="375.10" y2="115.30" stroke="#333" stroke-width="1.0" />
<line x1="392.60" y1="78.30" x2="392.60" y2="100.20" stroke="#333" stroke-width="1.0" />
<line x1="391.10" y1="78.30" x2="394.10" y2="78.30" stroke="#333" stroke-width="1.0" />
<line x1="391.10" y1="100.20" x2="394.10" y2="100.20" stroke="#333" stroke-width="1.0" />
<line x1="412.00" y1="63.50" x2="412.00" y2="84.40" stroke="#333" stroke-width="1.0" />
<line x1="410.50" y1="63.50" x2="413.50" y2="63.50" stroke="#333" stroke-width="1.0" />
<line x1="410.50" y1="84.40" x2="413.50" y2="84.40" stroke="#333" stroke-width="1.0" />
<rect x="372.00" y="104.30" width="3.20" height="3.20" fill="#7a1fa0"/>
<rect x="391.00" y="89.00" width="3.20" height="3.20" fill="#2323dd"/>
<rect x="410.40" y="72.90" width="3.20" height="3.20" fill="#2a8aa8"/>
<line x1="436.90" y1="124.10" x2="450.40" y2="124.10" stroke="#55dd55" stroke-width="0.9" />
<text transform="translate(456.60,126.50)" font-family="Liberation Sans" font-size="6.8" text-anchor="start" fill="#222">1−year</text>
<line x1="436.90" y1="132.40" x2="450.40" y2="132.40" stroke="#3434e0" stroke-width="0.9" />
<text transform="translate(456.60,134.80)" font-family="Liberation Sans" font-size="6.8" text-anchor="start" fill="#222">2−year</text>
<line x1="436.90" y1="140.70" x2="450.40" y2="140.70" stroke="#f05050" stroke-width="0.9" />
<text transform="translate(456.60,143.10)" font-family="Liberation Sans" font-size="6.8" text-anchor="start" fill="#222">3−year</text>
<text transform="translate(495.60,16.20)" font-family="Liberation Serif" font-size="18.5" text-anchor="start" fill="#111">C</text>
<line x1="518.60" y1="16.15" x2="678.60" y2="16.15" stroke="#c4c4c4" stroke-width="1.8" />
<line x1="678.60" y1="15.80" x2="678.60" y2="155.40" stroke="#b4b4b4" stroke-width="1.4" />
<polyline points="518.60,14.90 518.60,155.40 679.30,155.40" fill="none" stroke="#7a7a7a" stroke-width="1.1" stroke-linejoin="miter" />
<line x1="515.20" y1="150.20" x2="518.60" y2="150.20" stroke="#777" stroke-width="0.7" />
<text transform="translate(510.40,150.20) rotate(-90)" font-family="Liberation Sans" font-size="5.4" text-anchor="middle" fill="#2a2a2a" stroke="#2a2a2a" stroke-width="0.1">0.0</text>
<line x1="524.50" y1="155.40" x2="524.50" y2="159.20" stroke="#777" stroke-width="0.7" />
<text transform="translate(524.50,168.10)" font-family="Liberation Sans" font-size="5.4" text-anchor="middle" fill="#2a2a2a" stroke="#2a2a2a" stroke-width="0.1">0.0</text>
<line x1="515.20" y1="124.34" x2="518.60" y2="124.34" stroke="#777" stroke-width="0.7" />
<text transform="translate(510.40,124.34) rotate(-90)" font-family="Liberation Sans" font-size="5.4" text-anchor="middle" fill="#2a2a2a" stroke="#2a2a2a" stroke-width="0.1">0.2</text>
<line x1="554.20" y1="155.40" x2="554.20" y2="159.20" stroke="#777" stroke-width="0.7" />
<text transform="translate(554.20,168.10)" font-family="Liberation Sans" font-size="5.4" text-anchor="middle" fill="#2a2a2a" stroke="#2a2a2a" stroke-width="0.1">0.2</text>
<line x1="515.20" y1="98.48" x2="518.60" y2="98.48" stroke="#777" stroke-width="0.7" />
<text transform="translate(510.40,98.48) rotate(-90)" font-family="Liberation Sans" font-size="5.4" text-anchor="middle" fill="#2a2a2a" stroke="#2a2a2a" stroke-width="0.1">0.4</text>
<line x1="583.90" y1="155.40" x2="583.90" y2="159.20" stroke="#777" stroke-width="0.7" />
<text transform="translate(583.90,168.10)" font-family="Liberation Sans" font-size="5.4" text-anchor="middle" fill="#2a2a2a" stroke="#2a2a2a" stroke-width="0.1">0.4</text>
<line x1="515.20" y1="72.62" x2="518.60" y2="72.62" stroke="#777" stroke-width="0.7" />
<text transform="translate(510.40,72.62) rotate(-90)" font-family="Liberation Sans" font-size="5.4" text-anchor="middle" fill="#2a2a2a" stroke="#2a2a2a" stroke-width="0.1">0.6</text>
<line x1="613.60" y1="155.40" x2="613.60" y2="159.20" stroke="#777" stroke-width="0.7" />
<text transform="translate(613.60,168.10)" font-family="Liberation Sans" font-size="5.4" text-anchor="middle" fill="#2a2a2a" stroke="#2a2a2a" stroke-width="0.1">0.6</text>
<line x1="515.20" y1="46.76" x2="518.60" y2="46.76" stroke="#777" stroke-width="0.7" />
<text transform="translate(510.40,46.76) rotate(-90)" font-family="Liberation Sans" font-size="5.4" text-anchor="middle" fill="#2a2a2a" stroke="#2a2a2a" stroke-width="0.1">0.8</text>
<line x1="643.30" y1="155.40" x2="643.30" y2="159.20" stroke="#777" stroke-width="0.7" />
<text transform="translate(643.30,168.10)" font-family="Liberation Sans" font-size="5.4" text-anchor="middle" fill="#2a2a2a" stroke="#2a2a2a" stroke-width="0.1">0.8</text>
<line x1="515.20" y1="20.90" x2="518.60" y2="20.90" stroke="#777" stroke-width="0.7" />
<text transform="translate(510.40,20.90) rotate(-90)" font-family="Liberation Sans" font-size="5.4" text-anchor="middle" fill="#2a2a2a" stroke="#2a2a2a" stroke-width="0.1">1.0</text>
<line x1="673.00" y1="155.40" x2="673.00" y2="159.20" stroke="#777" stroke-width="0.7" />
<text transform="translate(673.00,168.10)" font-family="Liberation Sans" font-size="5.4" text-anchor="middle" fill="#2a2a2a" stroke="#2a2a2a" stroke-width="0.1">1.0</text>
<text transform="translate(598.80,181.60)" font-family="Liberation Sans" font-size="5.6" text-anchor="middle" fill="#222" stroke="#222" stroke-width="0.12">1−Specificity</text>
<text transform="translate(496.80,85.70) rotate(-90)" font-family="Liberation Sans" font-size="5.6" text-anchor="middle" fill="#222" stroke="#222" stroke-width="0.12">Sensitivity</text>
<line x1="518.60" y1="155.40" x2="678.60" y2="15.80" stroke="#222" stroke-width="0.75" />
<polyline points="524.50,150.20 616.57,81.02 673.00,20.90" fill="none" stroke="#33dddd" stroke-width="1.15" stroke-linejoin="miter" />
<polyline points="524.50,150.20 524.50,57.80 548.10,57.80 548.10,35.40 570.40,35.40 570.40,32.10 592.20,32.10 592.20,26.50 633.90,26.50 633.90,23.00 655.50,23.00 673.00,20.90" fill="none" stroke="#e04444" stroke-width="1.15" stroke-linejoin="miter" />
<polyline points="524.50,150.20 524.50,59.30 545.60,59.30 545.60,39.50 566.60,39.50 566.60,25.40 588.40,25.40 588.40,24.30 609.30,24.30 609.30,22.70 655.50,22.70 673.00,20.90" fill="none" stroke="#f0e030" stroke-width="1.15" stroke-linejoin="miter" />
<polyline points="524.50,150.20 524.50,70.40 547.90,70.40 547.90,69.50 570.60,65.20 595.20,65.20 595.20,44.80 636.40,42.60 636.40,25.40 654.90,23.70 673.00,20.90" fill="none" stroke="#44cc44" stroke-width="1.15" stroke-linejoin="miter" />
<polyline points="524.50,150.20 524.50,113.60 673.00,20.90" fill="none" stroke="#3a3acc" stroke-width="1.15" stroke-linejoin="miter" />
<line x1="590.00" y1="122.20" x2="600.80" y2="122.20" stroke="#e05555" stroke-width="1.0" />
<text transform="translate(605.60,124.20)" font-family="Liberation Sans" font-size="5.6" text-anchor="start" fill="#222" stroke="#222" stroke-width="0.08">Risk, AUC=0.910</text>
<line x1="590.00" y1="128.95" x2="600.80" y2="128.95" stroke="#eedd44" stroke-width="1.0" />
<text transform="translate(605.60,130.95)" font-family="Liberation Sans" font-size="5.6" text-anchor="start" fill="#222" stroke="#222" stroke-width="0.08">Nomogram, AUC=0.924</text>
<line x1="590.00" y1="135.70" x2="600.80" y2="135.70" stroke="#55d055" stroke-width="1.0" />
<text transform="translate(605.60,137.70)" font-family="Liberation Sans" font-size="5.6" text-anchor="start" fill="#222" stroke="#222" stroke-width="0.08">Age, AUC=0.775</text>
<line x1="590.00" y1="142.45" x2="600.80" y2="142.45" stroke="#55dddd" stroke-width="1.0" />
<text transform="translate(605.60,144.45)" font-family="Liberation Sans" font-size="5.6" text-anchor="start" fill="#222" stroke="#222" stroke-width="0.08">Gender, AUC=0.460</text>
<line x1="590.00" y1="149.20" x2="600.80" y2="149.20" stroke="#6666cc" stroke-width="1.0" />
<text transform="translate(605.60,151.20)" font-family="Liberation Sans" font-size="5.6" text-anchor="start" fill="#222" stroke="#222" stroke-width="0.08">Prior_treatment, AUC=0.641</text>
<text transform="translate(5.20,213.70)" font-family="Liberation Serif" font-size="18.5" text-anchor="start" fill="#111">D</text>
<text transform="translate(73.80,206.50)" font-family="Liberation Sans" font-size="6.6" text-anchor="end" fill="#222" font-weight="bold">pvalue</text>
<text transform="translate(160.60,206.50)" font-family="Liberation Sans" font-size="6.85" text-anchor="end" fill="#222" font-weight="bold">Hazard ratio</text>
<text transform="translate(1.60,244.10)" font-family="Liberation Sans" font-size="6.8" text-anchor="start" fill="#1e1e1e" stroke="#1e1e1e" stroke-width="0.06">Age</text>
<text transform="translate(73.60,244.10)" font-family="Liberation Sans" font-size="6.8" text-anchor="end" fill="#1e1e1e" stroke="#1e1e1e" stroke-width="0.06">&lt;0.001</text>
<text transform="translate(161.00,244.10)" font-family="Liberation Sans" font-size="6.8" text-anchor="end" fill="#1e1e1e" stroke="#1e1e1e" stroke-width="0.06">1.038(1.022−1.053)</text>
<text transform="translate(1.60,282.10)" font-family="Liberation Sans" font-size="6.8" text-anchor="start" fill="#1e1e1e" stroke="#1e1e1e" stroke-width="0.06">Gender</text>
<text transform="translate(73.60,282.10)" font-family="Liberation Sans" font-size="6.8" text-anchor="end" fill="#1e1e1e" stroke="#1e1e1e" stroke-width="0.06">0.968</text>
<text transform="translate(161.00,282.10)" font-family="Liberation Sans" font-size="6.8" text-anchor="end" fill="#1e1e1e" stroke="#1e1e1e" stroke-width="0.06">0.991(0.648−1.517)</text>
<text transform="translate(1.60,319.20)" font-family="Liberation Sans" font-size="6.8" text-anchor="start" fill="#1e1e1e" stroke="#1e1e1e" stroke-width="0.06">Prior_treatment</text>
<text transform="translate(73.60,319.20)" font-family="Liberation Sans" font-size="6.8" text-anchor="end" fill="#1e1e1e" stroke="#1e1e1e" stroke-width="0.06">0.100</text>
<text transform="translate(161.00,319.20)" font-family="Liberation Sans" font-size="6.8" text-anchor="end" fill="#1e1e1e" stroke="#1e1e1e" stroke-width="0.06">1.502(0.925−2.439)</text>
<text transform="translate(1.60,356.60)" font-family="Liberation Sans" font-size="6.8" text-anchor="start" fill="#1e1e1e" stroke="#1e1e1e" stroke-width="0.06">Nomogram</text>
<text transform="translate(73.60,356.60)" font-family="Liberation Sans" font-size="6.8" text-anchor="end" fill="#1e1e1e" stroke="#1e1e1e" stroke-width="0.06">&lt;0.001</text>
<text transform="translate(161.00,356.60)" font-family="Liberation Sans" font-size="6.8" text-anchor="end" fill="#1e1e1e" stroke="#1e1e1e" stroke-width="0.06">2.718(2.124−3.479)</text>
<line x1="223.87" y1="201.90" x2="223.87" y2="365.60" stroke="#444" stroke-width="1.3" stroke-dasharray="4,4.2"/>
<line x1="181.40" y1="360.40" x2="308.81" y2="360.40" stroke="#666" stroke-width="1.0" />
<line x1="181.40" y1="360.40" x2="181.40" y2="365.00" stroke="#666" stroke-width="0.9" />
<text transform="translate(181.40,374.00) scale(0.93,1)" font-family="Liberation Sans" font-size="8.6" text-anchor="middle" fill="#262626" stroke="#262626" stroke-width="0.14">0.0</text>
<line x1="202.63" y1="360.40" x2="202.63" y2="365.00" stroke="#666" stroke-width="0.9" />
<text transform="translate(202.63,374.00) scale(0.93,1)" font-family="Liberation Sans" font-size="8.6" text-anchor="middle" fill="#262626" stroke="#262626" stroke-width="0.14">0.5</text>
<line x1="223.87" y1="360.40" x2="223.87" y2="365.00" stroke="#666" stroke-width="0.9" />
<text transform="translate(223.87,374.00) scale(0.93,1)" font-family="Liberation Sans" font-size="8.6" text-anchor="middle" fill="#262626" stroke="#262626" stroke-width="0.14">1.0</text>
<line x1="245.11" y1="360.40" x2="245.11" y2="365.00" stroke="#666" stroke-width="0.9" />
<text transform="translate(245.11,374.00) scale(0.93,1)" font-family="Liberation Sans" font-size="8.6" text-anchor="middle" fill="#262626" stroke="#262626" stroke-width="0.14">1.5</text>
<line x1="266.34" y1="360.40" x2="266.34" y2="365.00" stroke="#666" stroke-width="0.9" />
<text transform="translate(266.34,374.00) scale(0.93,1)" font-family="Liberation Sans" font-size="8.6" text-anchor="middle" fill="#262626" stroke="#262626" stroke-width="0.14">2.0</text>
<line x1="287.57" y1="360.40" x2="287.57" y2="365.00" stroke="#666" stroke-width="0.9" />
<text transform="translate(287.57,374.00) scale(0.93,1)" font-family="Liberation Sans" font-size="8.6" text-anchor="middle" fill="#262626" stroke="#262626" stroke-width="0.14">2.5</text>
<line x1="308.81" y1="360.40" x2="308.81" y2="365.00" stroke="#666" stroke-width="0.9" />
<text transform="translate(308.81,374.00) scale(0.93,1)" font-family="Liberation Sans" font-size="8.6" text-anchor="middle" fill="#262626" stroke="#262626" stroke-width="0.14">3.0</text>
<text transform="translate(255.50,388.20)" font-family="Liberation Sans" font-size="8.2" text-anchor="middle" fill="#222">Hazard ratio</text>
<line x1="224.80" y1="242.30" x2="226.12" y2="242.30" stroke="#1c1c96" stroke-width="1.5" />
<line x1="224.80" y1="239.40" x2="224.80" y2="245.20" stroke="#1c1c96" stroke-width="1.6" />
<line x1="226.12" y1="239.40" x2="226.12" y2="245.20" stroke="#1c1c96" stroke-width="1.6" />
<rect x="221.93" y="238.75" width="7.10" height="7.10" fill="#11ee11"/>
<line x1="208.92" y1="279.70" x2="245.83" y2="279.70" stroke="#1c1c96" stroke-width="1.5" />
<line x1="208.92" y1="276.80" x2="208.92" y2="282.60" stroke="#1c1c96" stroke-width="1.6" />
<line x1="245.83" y1="276.80" x2="245.83" y2="282.60" stroke="#1c1c96" stroke-width="1.6" />
<rect x="219.94" y="276.15" width="7.10" height="7.10" fill="#11ee11"/>
<line x1="220.68" y1="316.90" x2="284.98" y2="316.90" stroke="#1c1c96" stroke-width="1.5" />
<line x1="220.68" y1="314.00" x2="220.68" y2="319.80" stroke="#1c1c96" stroke-width="1.6" />
<line x1="284.98" y1="314.00" x2="284.98" y2="319.80" stroke="#1c1c96" stroke-width="1.6" />
<rect x="241.64" y="313.35" width="7.10" height="7.10" fill="#11ee11"/>
<line x1="271.61" y1="354.50" x2="329.15" y2="354.50" stroke="#1c1c96" stroke-width="1.5" />
<line x1="271.61" y1="351.60" x2="271.61" y2="357.40" stroke="#1c1c96" stroke-width="1.6" />
<line x1="329.15" y1="351.60" x2="329.15" y2="357.40" stroke="#1c1c96" stroke-width="1.6" />
<rect x="293.28" y="350.95" width="7.10" height="7.10" fill="#11ee11"/>
<text transform="translate(341.60,210.60)" font-family="Liberation Serif" font-size="18.5" text-anchor="start" fill="#111">E</text>
<text transform="translate(414.40,203.70)" font-family="Liberation Sans" font-size="6.6" text-anchor="end" fill="#222" font-weight="bold">pvalue</text>
<text transform="translate(503.20,203.70)" font-family="Liberation Sans" font-size="6.85" text-anchor="end" fill="#222" font-weight="bold">Hazard ratio</text>
<text transform="translate(341.20,242.80)" font-family="Liberation Sans" font-size="6.8" text-anchor="start" fill="#1e1e1e" stroke="#1e1e1e" stroke-width="0.06">Age</text>
<text transform="translate(414.20,242.80)" font-family="Liberation Sans" font-size="6.8" text-anchor="end" fill="#1e1e1e" stroke="#1e1e1e" stroke-width="0.06">0.793</text>
<text transform="translate(503.60,242.80)" font-family="Liberation Sans" font-size="6.8" text-anchor="end" fill="#1e1e1e" stroke="#1e1e1e" stroke-width="0.06">1.003(0.983−1.022)</text>
<text transform="translate(341.20,281.40)" font-family="Liberation Sans" font-size="6.8" text-anchor="start" fill="#1e1e1e" stroke="#1e1e1e" stroke-width="0.06">Gender</text>
<text transform="translate(414.20,281.40)" font-family="Liberation Sans" font-size="6.8" text-anchor="end" fill="#1e1e1e" stroke="#1e1e1e" stroke-width="0.06">0.527</text>
<text transform="translate(503.60,281.40)" font-family="Liberation Sans" font-size="6.8" text-anchor="end" fill="#1e1e1e" stroke="#1e1e1e" stroke-width="0.06">0.870(0.566−1.338)</text>
<text transform="translate(341.20,319.70)" font-family="Liberation Sans" font-size="6.8" text-anchor="start" fill="#1e1e1e" stroke="#1e1e1e" stroke-width="0.06">Prior_treatment</text>
<text transform="translate(414.20,319.70)" font-family="Liberation Sans" font-size="6.8" text-anchor="end" fill="#1e1e1e" stroke="#1e1e1e" stroke-width="0.06">0.399</text>
<text transform="translate(503.60,319.70)" font-family="Liberation Sans" font-size="6.8" text-anchor="end" fill="#1e1e1e" stroke="#1e1e1e" stroke-width="0.06">1.248(0.746−2.088)</text>
<text transform="translate(341.20,357.50)" font-family="Liberation Sans" font-size="6.8" text-anchor="start" fill="#1e1e1e" stroke="#1e1e1e" stroke-width="0.06">Nomogram</text>
<text transform="translate(414.20,357.50)" font-family="Liberation Sans" font-size="6.8" text-anchor="end" fill="#1e1e1e" stroke="#1e1e1e" stroke-width="0.06">&lt;0.001</text>
<text transform="translate(503.60,357.50)" font-family="Liberation Sans" font-size="6.8" text-anchor="end" fill="#1e1e1e" stroke="#1e1e1e" stroke-width="0.06">2.625(1.921−3.587)</text>
<line x1="567.70" y1="198.90" x2="567.70" y2="367.30" stroke="#444" stroke-width="1.3" stroke-dasharray="4,4.2"/>
<line x1="525.40" y1="362.10" x2="673.45" y2="362.10" stroke="#666" stroke-width="1.0" />
<line x1="525.40" y1="362.10" x2="525.40" y2="366.70" stroke="#666" stroke-width="0.9" />
<text transform="translate(525.40,375.30) scale(0.93,1)" font-family="Liberation Sans" font-size="8.6" text-anchor="middle" fill="#262626" stroke="#262626" stroke-width="0.14">0.0</text>
<line x1="546.55" y1="362.10" x2="546.55" y2="366.70" stroke="#666" stroke-width="0.9" />
<text transform="translate(546.55,375.30) scale(0.93,1)" font-family="Liberation Sans" font-size="8.6" text-anchor="middle" fill="#262626" stroke="#262626" stroke-width="0.14">0.5</text>
<line x1="567.70" y1="362.10" x2="567.70" y2="366.70" stroke="#666" stroke-width="0.9" />
<text transform="translate(567.70,375.30) scale(0.93,1)" font-family="Liberation Sans" font-size="8.6" text-anchor="middle" fill="#262626" stroke="#262626" stroke-width="0.14">1.0</text>
<line x1="588.85" y1="362.10" x2="588.85" y2="366.70" stroke="#666" stroke-width="0.9" />
<text transform="translate(588.85,375.30) scale(0.93,1)" font-family="Liberation Sans" font-size="8.6" text-anchor="middle" fill="#262626" stroke="#262626" stroke-width="0.14">1.5</text>
<line x1="610.00" y1="362.10" x2="610.00" y2="366.70" stroke="#666" stroke-width="0.9" />
<text transform="translate(610.00,375.30) scale(0.93,1)" font-family="Liberation Sans" font-size="8.6" text-anchor="middle" fill="#262626" stroke="#262626" stroke-width="0.14">2.0</text>
<line x1="631.15" y1="362.10" x2="631.15" y2="366.70" stroke="#666" stroke-width="0.9" />
<text transform="translate(631.15,375.30) scale(0.93,1)" font-family="Liberation Sans" font-size="8.6" text-anchor="middle" fill="#262626" stroke="#262626" stroke-width="0.14">2.5</text>
<line x1="652.30" y1="362.10" x2="652.30" y2="366.70" stroke="#666" stroke-width="0.9" />
<text transform="translate(652.30,375.30) scale(0.93,1)" font-family="Liberation Sans" font-size="8.6" text-anchor="middle" fill="#262626" stroke="#262626" stroke-width="0.14">3.0</text>
<line x1="673.45" y1="362.10" x2="673.45" y2="366.70" stroke="#666" stroke-width="0.9" />
<text transform="translate(673.45,375.30) scale(0.93,1)" font-family="Liberation Sans" font-size="8.6" text-anchor="middle" fill="#262626" stroke="#262626" stroke-width="0.14">3.5</text>
<text transform="translate(601.10,389.90)" font-family="Liberation Sans" font-size="8.2" text-anchor="middle" fill="#222">Hazard ratio</text>
<line x1="566.98" y1="240.40" x2="568.63" y2="240.40" stroke="#1c1c96" stroke-width="1.5" />
<line x1="566.98" y1="237.50" x2="566.98" y2="243.30" stroke="#1c1c96" stroke-width="1.6" />
<line x1="568.63" y1="237.50" x2="568.63" y2="243.30" stroke="#1c1c96" stroke-width="1.6" />
<rect x="564.28" y="236.85" width="7.10" height="7.10" fill="#ee1111"/>
<line x1="549.34" y1="279.00" x2="582.00" y2="279.00" stroke="#1c1c96" stroke-width="1.5" />
<line x1="549.34" y1="276.10" x2="549.34" y2="281.90" stroke="#1c1c96" stroke-width="1.6" />
<line x1="582.00" y1="276.10" x2="582.00" y2="281.90" stroke="#1c1c96" stroke-width="1.6" />
<rect x="558.65" y="275.45" width="7.10" height="7.10" fill="#ee1111"/>
<line x1="556.96" y1="317.50" x2="613.72" y2="317.50" stroke="#1c1c96" stroke-width="1.5" />
<line x1="556.96" y1="314.60" x2="556.96" y2="320.40" stroke="#1c1c96" stroke-width="1.6" />
<line x1="613.72" y1="314.60" x2="613.72" y2="320.40" stroke="#1c1c96" stroke-width="1.6" />
<rect x="574.64" y="313.95" width="7.10" height="7.10" fill="#ee1111"/>
<line x1="606.66" y1="355.80" x2="677.13" y2="355.80" stroke="#1c1c96" stroke-width="1.5" />
<line x1="606.66" y1="352.90" x2="606.66" y2="358.70" stroke="#1c1c96" stroke-width="1.6" />
<line x1="677.13" y1="352.90" x2="677.13" y2="358.70" stroke="#1c1c96" stroke-width="1.6" />
<rect x="632.89" y="352.25" width="7.10" height="7.10" fill="#ee1111"/>
</svg>
</body></html>
